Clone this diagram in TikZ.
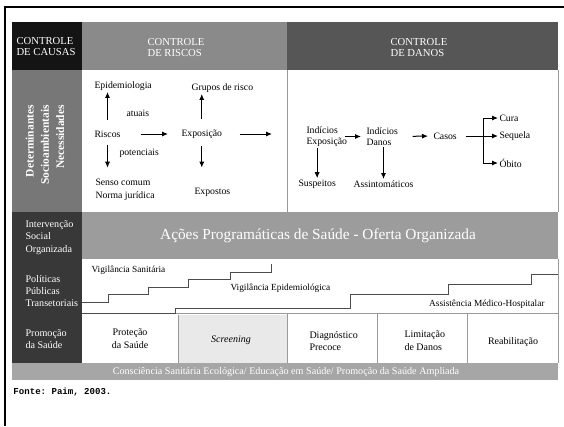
\documentclass[tikz,border=0pt]{standalone}
\usepackage{fontspec}
\setmainfont{Liberation Serif}
\setmonofont{Liberation Mono}
\usetikzlibrary{arrows.meta}

\definecolor{cabRiscos}{HTML}{8A8A8A}
\definecolor{cabDanos}{HTML}{565656}
\definecolor{colDeterm}{HTML}{777777}
\definecolor{colEscura}{HTML}{383838}
\definecolor{faixaAcoes}{HTML}{9C9C9C}
\definecolor{faixaBase}{HTML}{A6A6A6}
\definecolor{fundoScreen}{HTML}{E9E9E9}

\tikzset{every picture/.style={line width=0.75pt},
  seta/.style={-{Latex[length=4.5pt,width=3.8pt]},line width=0.75pt},
  txt/.style={inner sep=0.75pt,font=\fontsize{7.3}{8.6}\selectfont,align=left},
  cab/.style={inner sep=0.75pt,text=white,align=left,font=\fontsize{8}{8.6}\selectfont},
  lado/.style={inner sep=0.75pt,text=white,align=left,font=\fontsize{7.6}{9.3}\selectfont},
  fio/.style={draw=black!40,line width=0.4pt},
  degrau/.style={draw=black!70,line width=0.6pt}
}

\begin{document}
\begin{tikzpicture}[x=0.75pt,y=0.75pt,yscale=-1]
\useasboundingbox (0,0) rectangle (564,426);
\fill[white] (0,0) rectangle (564,426);

%Frame lines
\draw[line width=1.5pt] (4,7) -- (564,7) ;
\draw[line width=1.5pt] (5,7) -- (5,426) ;

%Shape: Rectangle (header)
\fill[black!92] (12,22) rectangle (82,70) ;
\fill[cabRiscos] (82,22) rectangle (287,70) ;
\fill[cabDanos] (287,22) rectangle (558,70) ;
%Shape: Rectangle (left column)
\fill[colDeterm] (12,70) rectangle (82,212) ;
\fill[colEscura] (12,212) rectangle (82,363) ;
%Shape: Rectangle (bands)
\fill[faixaAcoes] (82,212) rectangle (558,259) ;
\fill[fundoScreen] (178,315) rectangle (287,363) ;
\fill[faixaBase] (12,363) rectangle (558,380) ;

%Thin lines
\draw[fio] (287,70) -- (287,212) ;
\draw[fio] (558,70) -- (558,212) ;
\draw[fio] (558,259) -- (558,363) ;
\draw[fio] (82,313.5) -- (558,313.5) ;
\draw[fio] (178,315) -- (178,363) ;
\foreach \xs in {287,377,467}
  \draw[fio] (\xs,313.5) -- (\xs,363) ;

%Stairs
\draw[degrau] (82,302) -- (108,302) -- (108,294) -- (148,294) -- (148,287) -- (188,287) -- (188,279) -- (230,279) -- (230,272) -- (271,272) -- (271,264) ;
\draw[degrau] (82,313) -- (175,313) -- (175,308) -- (350,308) -- (350,294) -- (448,294) -- (448,284) -- (531,284) -- (531,274) -- (558,274) ;

% Text Node
\draw (46,46.5) node [cab] (causas) {CONTROLE\\DE CAUSAS};
% Text Node
\draw (176,47.5) node [cab] (riscostit) {CONTROLE\\DE RISCOS};
% Text Node
\draw (419,47.5) node [cab] (danostit) {CONTROLE\\DE DANOS};
% Text Node
\draw (45,145) node [rotate=90,inner sep=0.75pt,text=white,align=right,font=\fontsize{8.6}{11.4}\selectfont\bfseries] (determ) {Determinantes\\Socioambientais\\Necessidades};
% Text Node
\draw (24,237.5) node [lado,anchor=west] (interv) {Intervenção\\Social\\Organizada};
% Text Node
\draw (24,291) node [lado,anchor=west] (politicas) {Políticas\\Públicas\\Transetoriais};
% Text Node
\draw (24,339) node [lado,anchor=west] (promocao) {Promoção\\da Saúde};

% Text Node
\draw (93,86) node [txt,anchor=west] (epi) {Epidemiologia};
% Text Node
\draw (125,113) node [txt,anchor=west] (atuais) {atuais};
% Text Node
\draw (93,134) node [txt,anchor=west] (riscos) {Riscos};
% Text Node
\draw (118,153) node [txt,anchor=west] (potenciais) {potenciais};
% Text Node
\draw (94,189.5) node [txt,anchor=west,font=\fontsize{7.3}{10}\selectfont] (senso) {Senso comum\\Norma jurídica};
% Text Node
\draw (190,88) node [txt,anchor=west] (grupos) {Grupos de risco};
% Text Node
\draw (180,134) node [txt,anchor=west] (expo) {Exposição};
% Text Node
\draw (193,192) node [txt,anchor=west] (expostos) {Expostos};
\coordinate (fimRiscos) at (272,134) ;

% Text Node
\draw (305,136.5) node [txt,anchor=west] (indexp) {Indícios\\Exposição};
% Text Node
\draw (365,136.5) node [txt,anchor=west] (inddan) {Indícios\\Danos};
% Text Node
\draw (432,136) node [txt,anchor=west] (casos) {Casos};
% Text Node
\draw (498,118) node [txt,anchor=west] (cura) {Cura};
% Text Node
\draw (498,136) node [txt,anchor=west] (sequela) {Sequela};
% Text Node
\draw (498,163) node [txt,anchor=west] (obito) {Óbito};
% Text Node
\draw (297,184) node [txt,anchor=west] (suspeitos) {Suspeitos};
% Text Node
\draw (352,184) node [txt,anchor=west] (assint) {Assintomáticos};
\coordinate (ramo) at (483,136) ;

%Arrows
\draw[seta,shorten <=7pt] (riscos.north) -- (riscos.north |- epi.south) ;
\draw[seta,shorten <=5pt,shorten >=7pt] (riscos.south) -- (riscos.south |- senso.north) ;
\draw[seta,shorten <=14pt,shorten >=9pt] (riscos.east) -- (expo.west) ;
\draw[seta,shorten <=7pt] (expo.north) -- (expo.north |- grupos.south) ;
\draw[seta,shorten <=5pt,shorten >=14pt] (expo.south) -- (expo.south |- expostos.north) ;
\draw[seta,shorten <=12pt] (expo.east) -- (fimRiscos) ;
\draw[seta,shorten <=-3pt,shorten >=3pt] (indexp.east) -- (inddan.west) ;
\draw[seta,shorten <=10pt,shorten >=3pt] (inddan.east) -- (casos.west) ;
\draw[shorten <=6pt] (casos.east) -- (ramo) ;
\draw (ramo |- cura.west) -- (ramo |- obito.west) ;
\draw[seta] (ramo |- cura.west) -- (cura.west) ;
\draw[seta] (ramo) -- (sequela.west) ;
\draw[seta] (ramo |- obito.west) -- (obito.west) ;
\draw[seta] (suspeitos.north |- indexp.south) -- (suspeitos.north) ;
\draw[seta] (assint.north |- inddan.south) -- (assint.north) ;

% Text Node
\draw (318,236) node [inner sep=0.75pt,text=white,font=\fontsize{11.5}{13}\selectfont] (acoes) {Ações Programáticas de Saúde - Oferta Organizada};
% Text Node
\draw (90,270) node [txt,anchor=west,font=\fontsize{7}{8}\selectfont] (vigsan) {Vigilância Sanitária};
% Text Node
\draw (229,288) node [txt,anchor=west,font=\fontsize{7}{8}\selectfont] (vigepi) {Vigilância Epidemiológica};
% Text Node
\draw (546,304) node [txt,anchor=east,font=\fontsize{7}{8}\selectfont] (assist) {Assistência Médico-Hospitalar};

% Text Node
\draw (130,339) node [txt,align=center,font=\fontsize{7.5}{9.5}\selectfont] (protecao) {Proteção\\da Saúde};
% Text Node
\draw (231,340) node [txt,font=\fontsize{7.5}{9}\selectfont\itshape] (screening) {Screening};
% Text Node
\draw (308,341) node [txt,anchor=west,font=\fontsize{7.5}{9.5}\selectfont] (diagn) {Diagnóstico\\Precoce};
% Text Node
\draw (403,341) node [txt,anchor=west,font=\fontsize{7.5}{9.5}\selectfont] (limit) {Limitação\\de Danos};
% Text Node
\draw (513,342) node [txt,font=\fontsize{7.5}{9}\selectfont] (reab) {Reabilitação};

% Text Node
\draw (286,372.5) node [inner sep=0.75pt,text=white,font=\fontsize{7.6}{9}\selectfont] (consc) {Consciência Sanitária Ecológica/ Educação em Saúde/ Promoção da Saúde Ampliada};
% Text Node
\draw (12,392) node [anchor=west,inner sep=0.75pt,font=\fontsize{6.8}{8}\ttfamily\bfseries] (fonte) {Fonte: Paim, 2003.};

\end{tikzpicture}
\end{document}
